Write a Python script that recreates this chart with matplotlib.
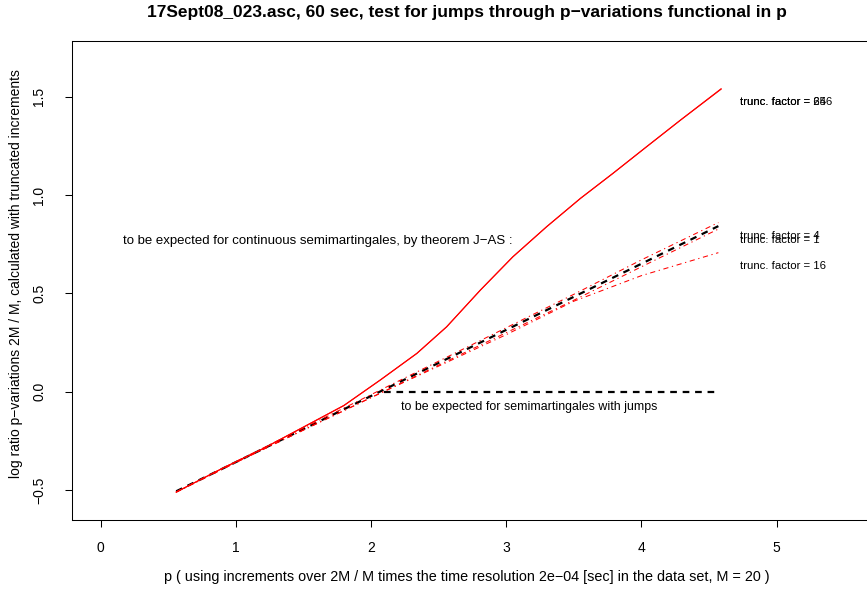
import matplotlib
matplotlib.use("Agg")
import matplotlib.pyplot as plt

plt.rcParams['font.family'] = ['Liberation Sans', 'DejaVu Sans']

# p grid shared by the truncated p-variation curves
p = [0.56, 1.0, 1.5, 2.0, 2.5, 3.0, 3.5, 4.0, 4.57]
trunc_1 = [-0.51, -0.36, -0.195, -0.03, 0.135, 0.30, 0.465, 0.635, 0.827]
trunc_4 = [-0.51, -0.355, -0.185, -0.015, 0.155, 0.325, 0.495, 0.67, 0.86]
trunc_16 = [-0.51, -0.36, -0.195, -0.03, 0.13, 0.29, 0.46, 0.59, 0.707]

# large truncation factors (64 and 256 lie on top of each other)
p_big = [0.56, 0.9, 1.2, 1.5, 1.8, 2.07, 2.34, 2.56, 2.81, 3.05, 3.30, 3.55, 3.79, 4.04, 4.29, 4.59]
trunc_64 = [-0.51, -0.39, -0.29, -0.18, -0.07, 0.06, 0.195, 0.33, 0.517, 0.686, 0.839, 0.983, 1.11, 1.246, 1.381, 1.538]
trunc_256 = [-0.51, -0.39, -0.29, -0.18, -0.07, 0.06, 0.195, 0.33, 0.517, 0.686, 0.839, 0.983, 1.11, 1.246, 1.381, 1.54]

# reference lines: continuous semimartingales vs. jumps
p_cont = [0.56, 4.57]
y_cont = [-0.506, 0.842]
p_jump = [2.1, 4.57]
y_jump = [0.0, 0.0]

labels = ["trunc. factor = 1", "trunc. factor = 4", "trunc. factor = 16",
          "trunc. factor = 64", "trunc. factor = 256"]
label_y = [0.771, 0.79, 0.638, 1.473, 1.473]

W, H = 867, 590
fig = plt.figure(figsize=(W / 100, H / 100), dpi=100)
ax = fig.add_axes([72 / W, 1 - 520 / H, (866 - 72) / W, (520 - 41) / H])

ax.plot(p_cont, y_cont, color='black', lw=1.6, ls=(0, (3, 2.6)))
ax.plot(p_jump, y_jump, color='black', lw=1.6, ls=(0, (3, 2.6)))

dashdot = (0, (5, 3.5, 1.2, 3.5))
ax.plot(p, trunc_1, color='red', lw=0.75, ls=dashdot)
ax.plot(p, trunc_4, color='red', lw=0.75, ls=dashdot)
ax.plot(p, trunc_16, color='red', lw=0.75, ls=dashdot)
ax.plot(p_big, trunc_64, color='red', lw=0.8)
ax.plot(p_big, trunc_256, color='red', lw=0.8)

for lab, ly in zip(labels, label_y):
    ax.text(4.73, ly, lab, fontsize=8.2, ha='left', va='center')

ax.text(1.61, 0.766, "to be expected for continuous semimartingales, by theorem J\u2212AS :",
        fontsize=9.5, ha='center', va='center')
ax.text(3.17, -0.078, "to be expected for semimartingales with jumps",
        fontsize=8.9, ha='center', va='center')

ax.set_xlim(-0.211, 5.662)
ax.set_ylim(-0.652, 1.783)
ax.set_xticks([0, 1, 2, 3, 4, 5])
ax.set_yticks([-0.5, 0.0, 0.5, 1.0, 1.5])
ax.set_yticklabels(["\u22120.5", "0.0", "0.5", "1.0", "1.5"], rotation=90, va='center')
ax.tick_params(axis='x', length=5, width=0.75, pad=10, labelsize=10)
ax.tick_params(axis='y', length=5, width=0.75, pad=13.5, labelsize=10)
for s in ax.spines.values():
    s.set_linewidth(0.75)
ax.spines['right'].set_visible(False)

fig.text(467 / W, 1 - 12 / H,
         "17Sept08_023.asc, 60 sec, test for jumps through p\u2212variations functional in p",
         fontsize=12.5, fontweight='bold', ha='center', va='center')
fig.text(467 / W, 1 - 577 / H,
         "p ( using increments over 2M / M times the time resolution 2e\u221204 [sec] in the data set, M = 20 )",
         fontsize=10.4, ha='center', va='center')
fig.text(16 / W, 1 - 274 / H,
         "log ratio p\u2212variations 2M / M, calculated with truncated increments",
         fontsize=10, rotation=90, ha='center', va='center')

fig.savefig("out.png", dpi=100)
